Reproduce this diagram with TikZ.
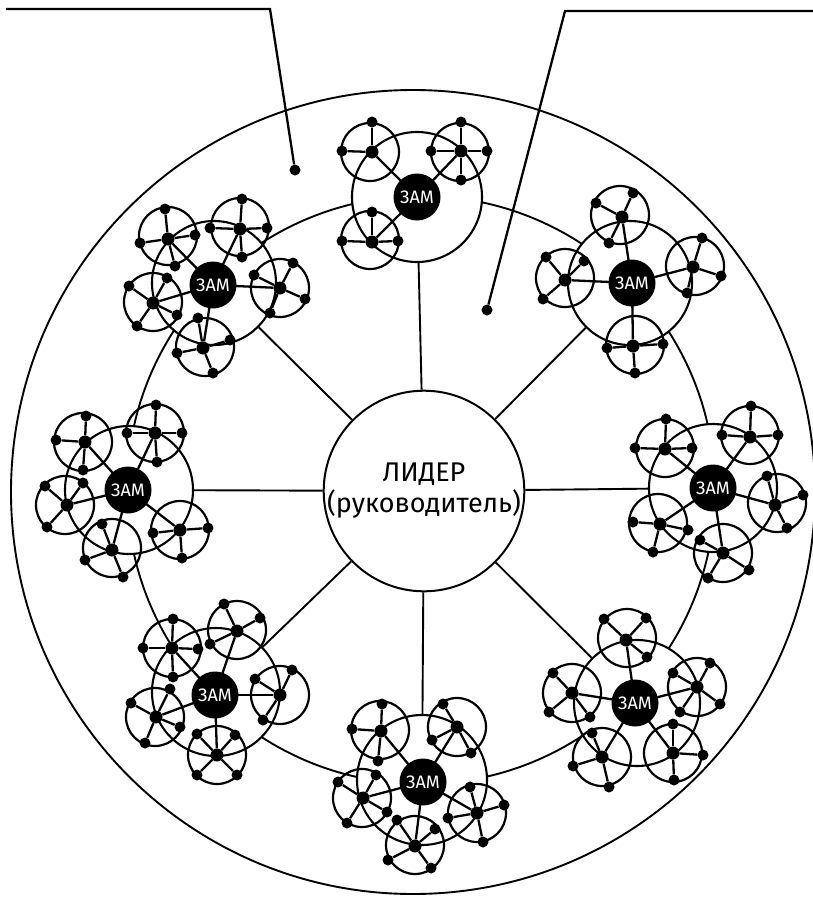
\documentclass[tikz,border=0pt]{standalone}
\usepackage{fontspec}
\setmainfont{Fira Sans}
\begin{document}
\begin{tikzpicture}[x=1pt,y=-1pt,
  ln/.style={line width=2.3pt,black},
  thin/.style={line width=1.9pt,black},
  subc/.style={circle,draw,line width=2.2pt,minimum size=58pt,inner sep=0pt},
  clus/.style={circle,draw,line width=2.1pt,fill=white,inner sep=0pt},
  hubdot/.style={circle,fill=black,minimum size=13pt,inner sep=0pt},
  dot/.style={circle,fill=black,minimum size=11pt,inner sep=0pt},
  zam/.style={circle,fill=black,minimum size=47pt,inner sep=0pt,text=white,font=\fontsize{18}{18}\selectfont},
  lead/.style={circle,draw,line width=2pt,fill=white,minimum size=188pt,inner sep=0pt,align=center,font=\fontsize{27}{31}\selectfont}
]
\newcommand\subcl[5]{%
  \node[subc] (#1) at (#2) {};
  \node[hubdot] (#1h) at (#3) {};
  \draw[ln] (#5) -- (#1h);
  \foreach \x/\y [count=\k] in {#4} {
    \node[dot] (#1d\k) at (\x,\y) {};
    \draw[ln] (#1h) -- (#1d\k);
  }%
}
\useasboundingbox (0,0) rectangle (813,897);
\fill[white] (0,0) rectangle (813,897);

% outer circle and ring
\node[circle,draw,thin,minimum size=804pt,inner sep=0pt] (outer) at (413,492) {};
\node[circle,draw,thin,minimum size=588pt,inner sep=0pt] (ring) at (421,490) {};

% cluster circles
\node[clus,minimum size=130pt] (k1) at (417,197) {};
\node[clus,minimum size=124pt] (k2) at (214,283) {};
\node[clus,minimum size=124pt] (k3) at (630,283) {};
\node[clus,minimum size=128pt] (k4) at (129,490) {};
\node[clus,minimum size=128pt] (k5) at (713,488) {};
\node[clus,minimum size=128pt] (k6) at (216,692) {};
\node[clus,minimum size=126pt] (k7) at (637,703) {};
\node[clus,minimum size=130pt] (k8) at (422,780) {};

% leader
\node[lead] (lead) at (424,491) {ЛИДЕР\\(руководитель)};
\foreach \i in {1,...,8} {\draw[thin] (lead) -- (k\i);}

% ZAM centres
\coordinate (z1) at (417,197);
\coordinate (z2) at (213,285);
\coordinate (z3) at (632,283);
\coordinate (z4) at (128,490);
\coordinate (z5) at (713,488);
\coordinate (z6) at (215,695);
\coordinate (z7) at (635,703);
\coordinate (z8) at (423,782);

% cluster 1 (top)
\subcl{s1a}{370,152}{372,152}{372/122,342/151}{z1}
\subcl{s1b}{460,152}{461,151}{461/122,431/151,487/151,461/180}{z1}
\subcl{s1c}{370,240}{372,242}{372/212,342/241,398/241}{z1}

% cluster 2 (upper left)
\subcl{s2a}{168,236}{168,239}{165/209,140/243,195/235,175/266}{z2}
\subcl{s2b}{240,227}{240,229}{242/199,210/228,267/228,242/257}{z2}
\subcl{s2c}{280,288}{280,288}{293/263,305/299,270/313,254/275}{z2}
\subcl{s2d}{153,302}{153,303}{129/286,167/278,177/315,137/326}{z2}
\subcl{s2e}{205,347}{203,348}{198/318,230/340,213/373,177/353}{z2}

% cluster 3 (upper right)
\subcl{s3a}{620,215}{622,217}{596/203,633/193,609/243}{z3}
\subcl{s3b}{565,278}{565,280}{546/257,584/261,543/299}{z3}
\subcl{s3c}{695,266}{693,267}{702/238,721/276,687/293}{z3}
\subcl{s3d}{635,345}{633,346}{607/348,663/344,635/373}{z3}

% cluster 4 (left)
\subcl{s4a}{83,442}{85,442}{86/416,56/440,83/470}{z4}
\subcl{s4b}{155,433}{155,433}{156/405,127/433,182/433,157/462}{z4}
\subcl{s4c}{65,505}{67,505}{45/486,83/483,47/527}{z4}
\subcl{s4d}{112,548}{112,550}{102/524,85/560,123/577}{z4}
\subcl{s4e}{180,530}{180,530}{153/533,208/528,182/558}{z4}

% cluster 5 (right)
\subcl{s5a}{665,448}{665,449}{666/419,635/448,692/448}{z5}
\subcl{s5b}{750,435}{750,437}{751/406,722/435,778/435}{z5}
\subcl{s5c}{777,503}{775,505}{767/476,803/495,787/528}{z5}
\subcl{s5d}{658,523}{660,524}{633/522,688/530,653/552}{z5}
\subcl{s5e}{723,553}{723,553}{700/540,749/570,708/578}{z5}

% cluster 6 (lower left)
\subcl{s6a}{172,648}{172,648}{173/619,143/648,198/649,173/677}{z6}
\subcl{s6b}{237,630}{237,631}{224/604,260/618,210/644}{z6}
\subcl{s6c}{280,695}{280,695}{255/679,292/670,263/720}{z6}
\subcl{s6d}{155,717}{156,717}{131/703,170/689,180/727,145/743}{z6}
\subcl{s6e}{217,755}{217,755}{197/734,235/735,197/775,237/775}{z6}

% cluster 7 (lower right)
\subcl{s7a}{627,638}{626,640}{604/619,646/618,647/657}{z7}
\subcl{s7b}{572,693}{572,693}{553/673,549/712,590/717}{z7}
\subcl{s7c}{697,687}{697,687}{673/673,710/663,720/704,680/712}{z7}
\subcl{s7d}{602,757}{602,757}{592/733,573/766,609/787}{z7}
\subcl{s7e}{673,753}{673,753}{673/724,703/755,674/780}{z7}

% cluster 8 (bottom)
\subcl{s8a}{380,730}{381,731}{382/704,352/729,378/761}{z8}
\subcl{s8b}{457,727}{457,727}{443/704,432/740,471/753}{z8}
\subcl{s8c}{362,798}{363,798}{338/782,376/775,387/812,347/823}{z8}
\subcl{s8d}{477,813}{477,813}{470/787,504/805,483/842,448/818}{z8}
\subcl{s8e}{415,845}{415,846}{397/820,435/829,388/860,431/868}{z8}

% ZAM nodes
\foreach \i in {1,...,8} {\node[zam] (zn\i) at (z\i) {ЗАМ};}

% pointer lines
\node[dot] (p1) at (295,170) {};
\coordinate (p1a) at (6,9);
\coordinate (p1b) at (270,9);
\draw[ln] (p1a) -- (p1b) -- (p1);
\node[dot] (p2) at (487,310) {};
\coordinate (p2a) at (813,11);
\coordinate (p2b) at (565,11);
\draw[ln] (p2a) -- (p2b) -- (p2);
\end{tikzpicture}
\end{document}
